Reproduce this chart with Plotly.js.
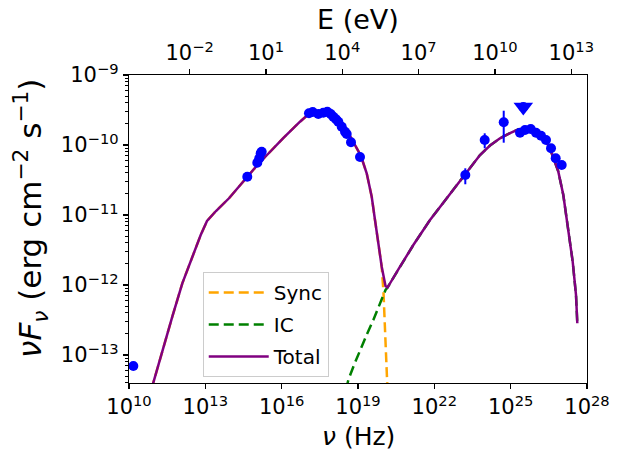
<!DOCTYPE html>
<html><head><meta charset="utf-8">
<script src="https://cdn.plot.ly/plotly-3.0.1.min.js"></script>
<style>html,body{margin:0;padding:0;background:#fff}#chart{width:620px;height:453px}</style>
</head><body><div id="chart"></div>
<script>
// Planck constant in eV s (for the top energy axis)
const H_EV = 4.135667e-15;

// Tick labels
const nuTickExp = [10, 13, 16, 19, 22, 25, 28];
const eTickExp  = [-2, 1, 4, 7, 10, 13];
const fTickExp  = [-13, -12, -11, -10, -9];

// Axis titles
const xTitle = '<i>ν</i> (Hz)';
const x2Title = 'E (eV)';
const yTitle = '<i>νF</i><sub><i>ν</i></sub> (erg cm<sup>−2</sup> s<sup>−1</sup>)';

// Model curves: log10(nu / Hz) and log10(nuFnu / erg cm^-2 s^-1)
const totalLogNu = [10.873,10.983,11.309,11.702,12.095,12.488,12.818,13.066,13.419,13.930,14.638,15.031,15.424,16.052,16.721,16.996,17.310,17.585,17.900,18.214,18.489,18.804,19.118,19.342,19.539,19.668,19.798,19.932,20.081,20.160,20.651,21.174,21.830,22.486,23.139,23.795,24.188,24.581,24.974,25.289,25.643,25.957,26.193,26.389,26.613,26.873,27.069,27.266,27.438,27.568,27.619];
const totalLogF  = [-13.5,-13.357,-12.929,-12.453,-11.976,-11.596,-11.286,-11.086,-10.943,-10.761,-10.457,-10.293,-10.143,-9.904,-9.667,-9.579,-9.529,-9.514,-9.543,-9.621,-9.743,-9.957,-10.157,-10.404,-10.739,-11.071,-11.404,-11.739,-12.014,-12.036,-11.739,-11.429,-11.071,-10.761,-10.453,-10.143,-10.007,-9.904,-9.829,-9.779,-9.761,-9.793,-9.857,-9.943,-10.119,-10.381,-10.714,-11.19,-11.667,-12.143,-12.547];

const syncLogNu = [10.873,10.983,11.309,11.702,12.095,12.488,12.818,13.066,13.419,13.930,14.638,15.031,15.424,16.052,16.721,16.996,17.310,17.585,17.900,18.214,18.489,18.804,19.118,19.342,19.539,19.668,19.798,19.932,20.003,20.089,20.152,20.167];
const syncLogF  = [-13.5,-13.357,-12.929,-12.453,-11.976,-11.596,-11.286,-11.086,-10.943,-10.761,-10.457,-10.293,-10.143,-9.904,-9.667,-9.579,-9.529,-9.514,-9.543,-9.621,-9.743,-9.957,-10.157,-10.404,-10.739,-11.071,-11.404,-11.739,-12.114,-12.786,-13.357,-13.571];

const icLogNu = [18.529,18.619,18.843,19.079,19.354,19.602,19.865,20.081,20.160,20.651,21.174,21.830,22.486,23.139,23.795,24.188,24.581,24.974,25.289,25.643,25.957,26.193,26.389,26.613,26.873,27.069,27.266,27.438,27.568,27.619];
const icLogF  = [-13.5,-13.357,-13.143,-12.929,-12.7,-12.5,-12.257,-12.071,-12.036,-11.739,-11.429,-11.071,-10.761,-10.453,-10.143,-10.007,-9.904,-9.829,-9.779,-9.761,-9.793,-9.857,-9.943,-10.119,-10.381,-10.714,-11.19,-11.667,-12.143,-12.547];

// Observed points (no error bars drawn)
const dataLogNu = [10.17,14.649,15.042,15.121,15.176,15.215,17.074,17.22,17.44,17.636,17.794,17.927,18.029,18.136,18.226,18.36,18.489,18.556,18.725,19.079,25.367,25.564,25.788,25.996,26.193,26.389,26.586,26.77,27.006];
const dataLogF  = [-13.157,-10.453,-10.253,-10.19,-10.119,-10.096,-9.547,-9.529,-9.557,-9.539,-9.524,-9.557,-9.596,-9.633,-9.667,-9.739,-9.81,-9.843,-9.961,-10.171,-9.824,-9.786,-9.771,-9.824,-9.867,-9.929,-10.047,-10.19,-10.286];

// Gamma-ray points with error bars
const fermiLogNu = [23.217,23.98,24.727];
const fermiLogF  = [-10.429,-9.929,-9.676];
const fermiLogLo = [-10.561,-10.047,-9.967];
const fermiLogHi = [-10.333,-9.833,-9.51];

// Upper limit
const ulLogNu = [25.497];
const ulLogF  = [-9.457];

const p10 = a => a.map(v => Math.pow(10, v));
const pow10Label = e => '10<sup>' + (e < 0 ? '\u2212' + (-e) : e) + '</sup>';

// minor tick positions for the y axis (2..9 x each decade)
const yMinor = [];
for (let d = -14; d <= -10; d++) for (let m = 2; m <= 9; m++) yMinor.push(m * Math.pow(10, d));

const BLUE = '#0000ff';
const traces = [
  {x: p10(syncLogNu), y: p10(syncLogF), mode: 'lines', name: 'Sync', legendgroup: 'a',
   line: {color: '#FFA500', width: 2.5, dash: '10px,5px'}},
  {x: p10(icLogNu), y: p10(icLogF), mode: 'lines', name: 'IC', legendgroup: 'b',
   line: {color: '#008000', width: 2.5, dash: '10px,5px'}},
  {x: p10(totalLogNu), y: p10(totalLogF), mode: 'lines', name: 'Total', legendgroup: 'c',
   line: {color: '#800080', width: 2.5}},
  {x: p10(dataLogNu), y: p10(dataLogF), mode: 'markers', showlegend: false,
   marker: {color: BLUE, size: 10}},
  (function(){
    const f = p10(fermiLogF), lo = p10(fermiLogLo), hi = p10(fermiLogHi);
    return {x: p10(fermiLogNu), y: f, mode: 'markers', showlegend: false,
      marker: {color: BLUE, size: 10},
      error_y: {type: 'data', symmetric: false,
        array: hi.map((h, i) => h - f[i]), arrayminus: lo.map((l, i) => f[i] - l),
        color: BLUE, thickness: 2, width: 0}};
  })(),
  {x: p10(ulLogNu), y: p10(ulLogF), mode: 'markers', showlegend: false,
   marker: {color: BLUE, size: 17, symbol: 'triangle-down'}},
  {x: p10(ulLogNu), y: p10(ulLogF), mode: 'markers', showlegend: false,
   marker: {color: BLUE, size: 10, symbol: 'circle'}},
  // invisible companion trace so the top energy axis is laid out
  {x: p10(dataLogNu).map(v => v * H_EV), y: p10(dataLogF), xaxis: 'x2', mode: 'markers',
   showlegend: false, hoverinfo: 'skip', marker: {opacity: 0}}
];

const axisCommon = {
  showgrid: false, zeroline: false, showline: true, linecolor: 'black', linewidth: 1.2,
  ticks: 'outside', ticklen: 5, tickwidth: 1.2, tickcolor: 'black',
  tickfont: {size: 21, color: 'black'}
};

const layout = {
  width: 620, height: 453,
  margin: {l: 129, r: 33, t: 75, b: 70},
  paper_bgcolor: 'white', plot_bgcolor: 'white',
  font: {family: 'DejaVu Sans', color: 'black'},
  showlegend: true,
  xaxis: Object.assign({}, axisCommon, {
    type: 'log', range: [10, 28], mirror: true,
    tickmode: 'array', tickvals: p10(nuTickExp), ticktext: nuTickExp.map(pow10Label)
  }),
  xaxis2: Object.assign({}, axisCommon, {
    type: 'log', overlaying: 'x', side: 'top', anchor: 'y',
    range: [10 + Math.log10(H_EV), 28 + Math.log10(H_EV)],
    tickmode: 'array', tickvals: p10(eTickExp), ticktext: eTickExp.map(pow10Label)
  }),
  yaxis: Object.assign({}, axisCommon, {
    type: 'log', range: [-13.4, -9], mirror: true,
    tickmode: 'array', tickvals: p10(fTickExp), ticktext: fTickExp.map(pow10Label),
    minor: {tickmode: 'array', tickvals: yMinor, ticks: 'outside', ticklen: 3, tickwidth: 1, tickcolor: 'black', showgrid: false}
  }),
  annotations: [
    {text: xTitle, xref: 'paper', yref: 'paper', x: 0.5, y: -0.175, xanchor: 'center', yanchor: 'middle',
     showarrow: false, font: {size: 25}, borderpad: 0},
    {text: x2Title, xref: 'paper', yref: 'paper', x: 0.5, y: 1.1786, xanchor: 'center', yanchor: 'middle',
     showarrow: false, font: {size: 27}, borderpad: 0},
    {text: yTitle, xref: 'paper', yref: 'paper', x: -0.214, y: 0.536, xanchor: 'center', yanchor: 'middle',
     textangle: -90, showarrow: false, font: {size: 31}}
  ],
  legend: {
    x: 0.161, y: 0.36, xanchor: 'left', yanchor: 'top',
    bgcolor: 'rgba(255,255,255,0.8)', bordercolor: '#cccccc', borderwidth: 1,
    font: {size: 20}, tracegroupgap: 3, itemwidth: 60
  }
};

Plotly.newPlot('chart', traces, layout, {displayModeBar: false, staticPlot: true});
</script>
</body></html>
